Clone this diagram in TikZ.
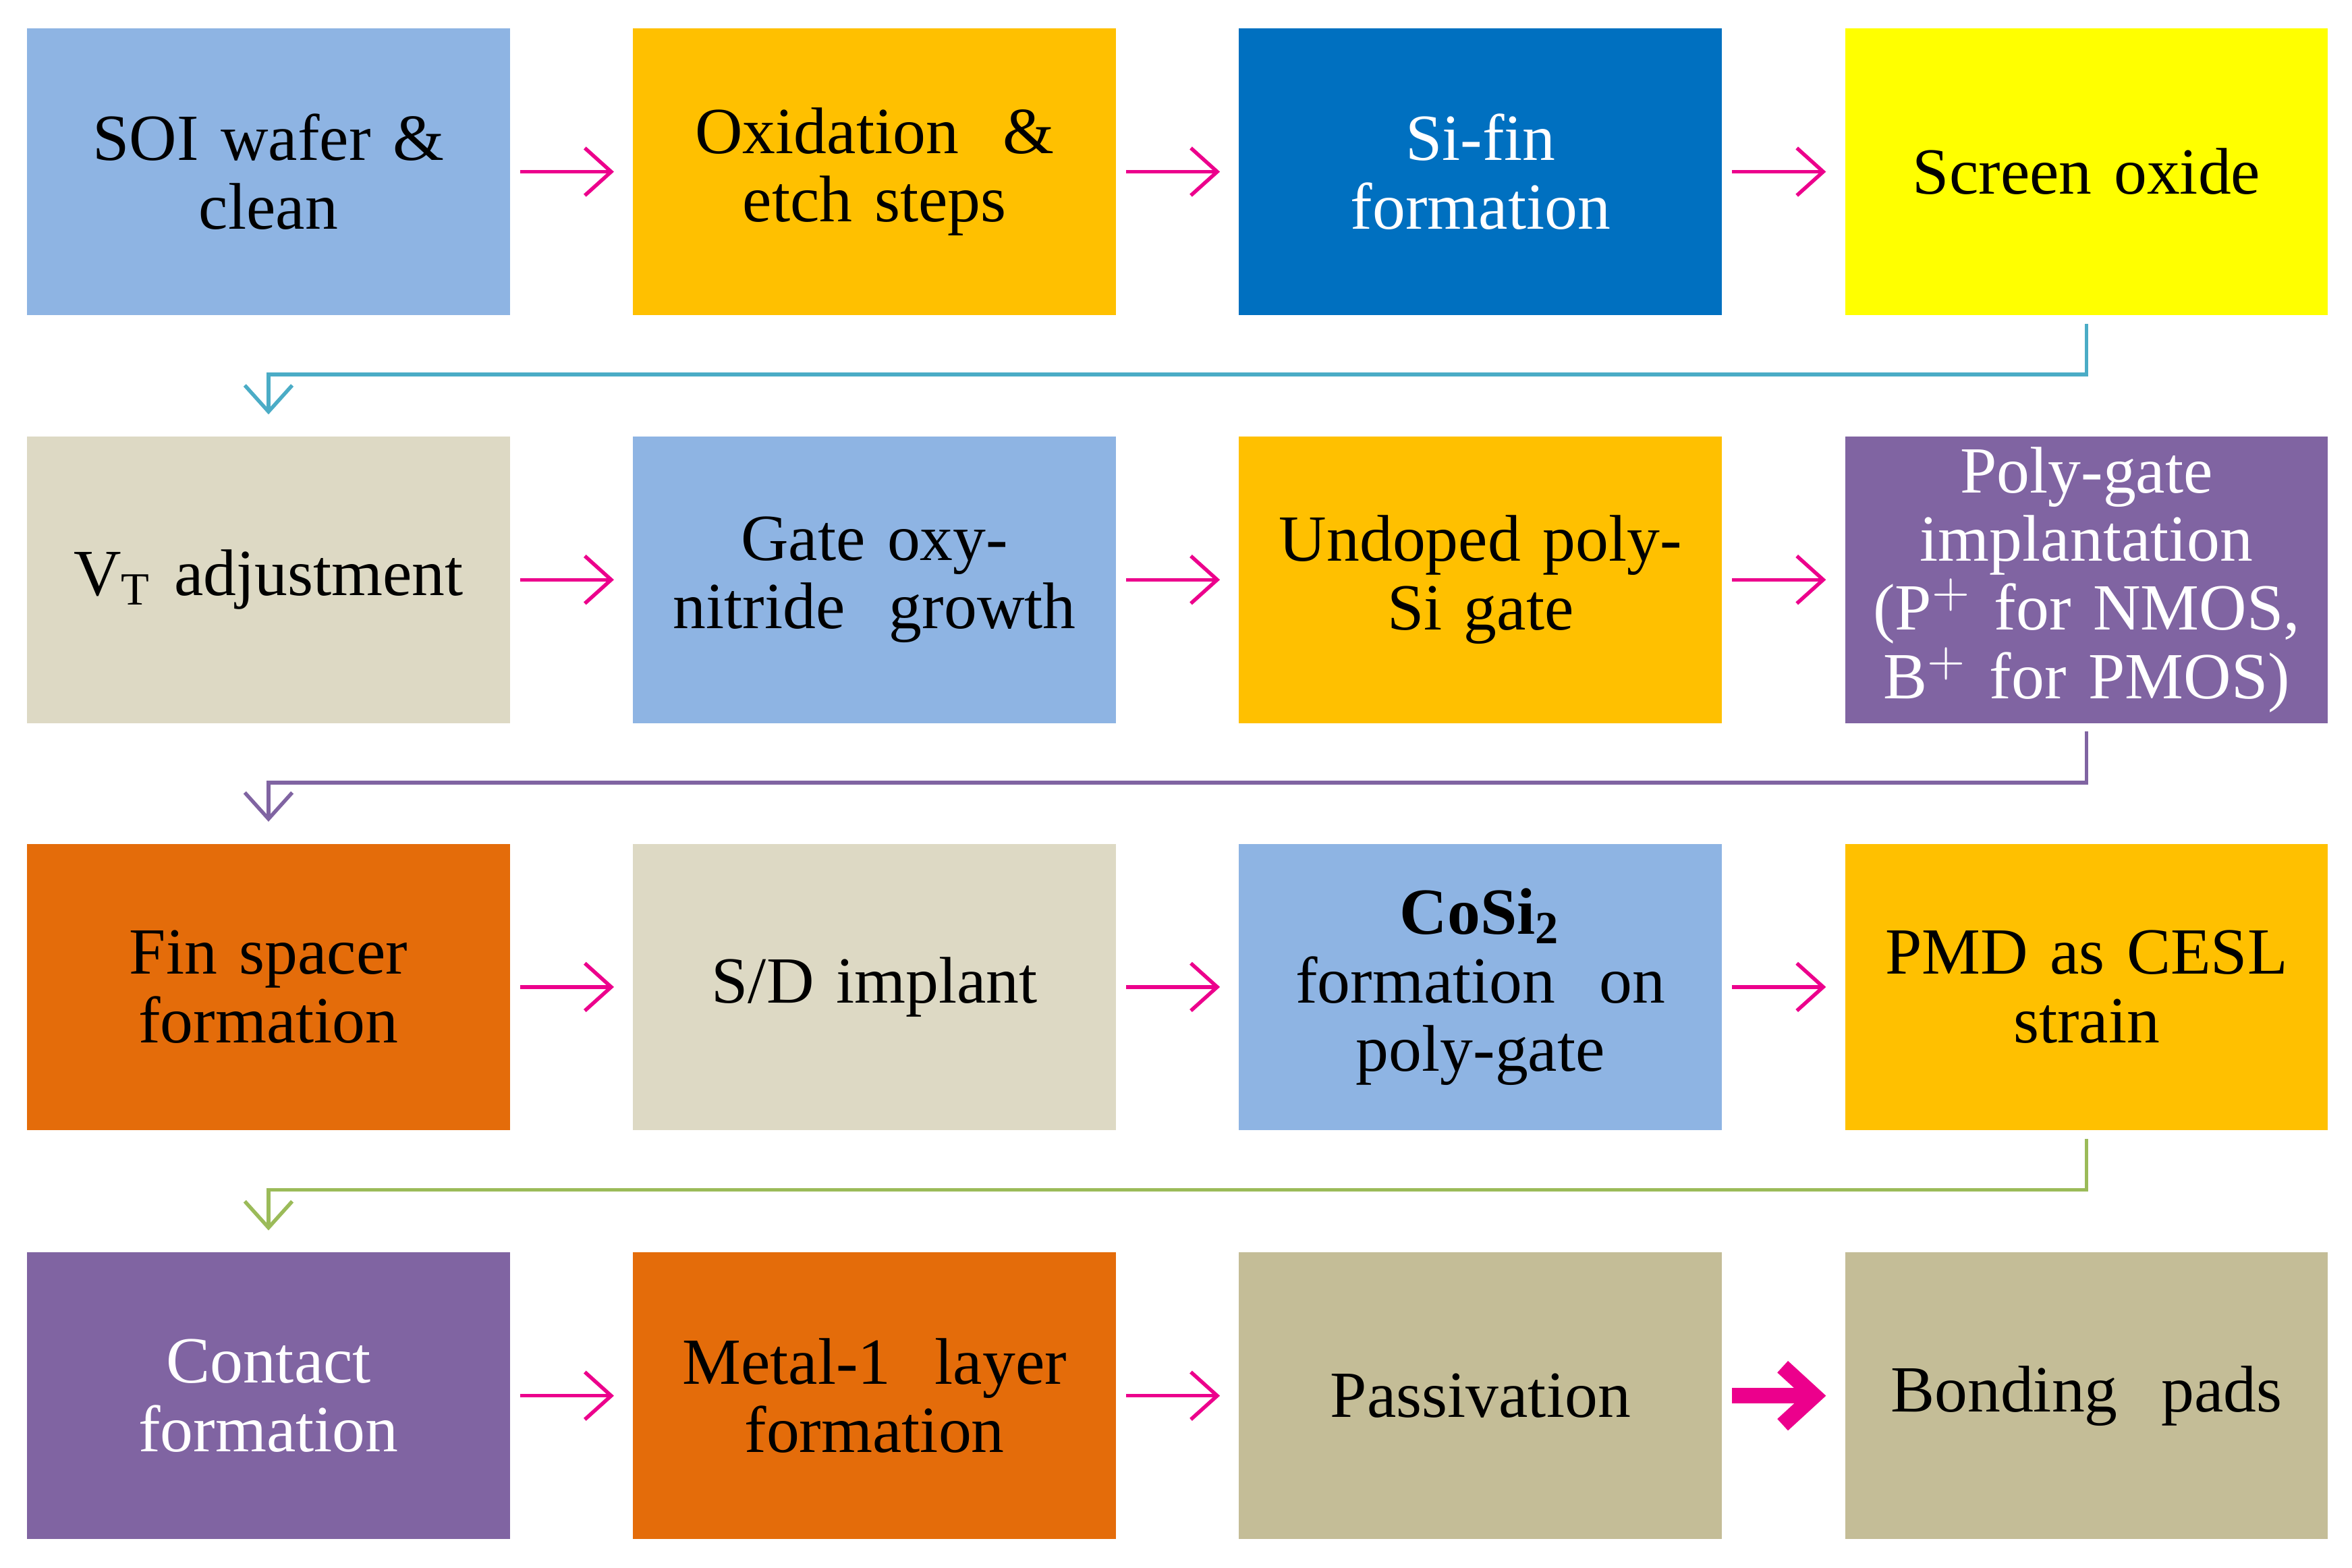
\documentclass[tikz,border=0pt]{standalone}
\usepackage{fontspec}
\setmainfont{Liberation Serif}
\usetikzlibrary{arrows.meta}
\definecolor{ltblue}{HTML}{8EB4E3}
\definecolor{gold}{HTML}{FFC000}
\definecolor{deepblue}{HTML}{0070C0}
\definecolor{brightyel}{HTML}{FFFF00}
\definecolor{beige}{HTML}{DDD9C4}
\definecolor{violet}{HTML}{8064A2}
\definecolor{rust}{HTML}{E46C0A}
\definecolor{tan}{HTML}{C4BD97}
\definecolor{teal}{HTML}{4BACC6}
\definecolor{olive}{HTML}{9BBB59}
\begin{document}
\begin{tikzpicture}[
    stage/.style={minimum width=3.22cm, minimum height=1.91cm, inner sep=2pt,
        align=center, text width=3cm, font=\fontsize{12.5}{13}\selectfont},
    flow/.style={draw=magenta, line width=0.7pt, -{Straight Barb[length=5pt,width=9pt]},
        shorten <=0.06cm, shorten >=0.12cm},
    bigflow/.style={draw=magenta, line width=3pt, -{Straight Barb[length=6pt,width=11pt]},
        shorten <=0.06cm, shorten >=0.12cm},
    wrap/.style={line width=0.7pt, -{Straight Barb[length=5pt,width=9pt]},
        shorten <=0.05cm, shorten >=0.14cm},
]
    \useasboundingbox (0,0) rectangle (15.68,10.45);

    % row 1
    \node[stage, fill=ltblue] (s11) at (1.79,9.305) {SOI wafer \&\\ clean};
    \node[stage, fill=gold] (s12) at (5.83,9.305) {Oxidation \ \&\\ etch steps};
    \node[stage, fill=deepblue, text=white] (s13) at (9.87,9.305) {Si-fin\\ formation};
    \node[stage, fill=brightyel] (s14) at (13.91,9.305) {Screen oxide};

    % row 2
    \node[stage, fill=beige] (s21) at (1.79,6.585) {V$_\mathrm{T}$ adjustment};
    \node[stage, fill=ltblue] (s22) at (5.83,6.585) {Gate oxy-\\ nitride \ growth};
    \node[stage, fill=gold] (s23) at (9.87,6.585) {Undoped poly-\\ Si gate};
    \node[stage, fill=violet, text=white] (s24) at (13.91,6.585) {Poly-gate\\ implantation\\ (P$^+$ for NMOS,\\ B$^+$ for PMOS)};

    % row 3
    \node[stage, fill=rust] (s31) at (1.79,3.87) {Fin spacer\\ formation};
    \node[stage, fill=beige] (s32) at (5.83,3.87) {S/D implant};
    \node[stage, fill=ltblue] (s33) at (9.87,3.87) {\textbf{CoSi$_\mathbf{2}$}\\ formation \ on\\ poly-gate};
    \node[stage, fill=gold] (s34) at (13.91,3.87) {PMD as CESL\\ strain};

    % row 4
    \node[stage, fill=violet, text=white] (s41) at (1.79,1.145) {Contact\\ formation};
    \node[stage, fill=rust] (s42) at (5.83,1.145) {Metal-1 \ layer\\ formation};
    \node[stage, fill=tan] (s43) at (9.87,1.145) {Passivation};
    \node[stage, fill=tan] (s44) at (13.91,1.145) {Bonding \ pads};

    % arrows inside rows
    \draw[flow] (s11) -- (s12);
    \draw[flow] (s12) -- (s13);
    \draw[flow] (s13) -- (s14);
    \draw[flow] (s21) -- (s22);
    \draw[flow] (s22) -- (s23);
    \draw[flow] (s23) -- (s24);
    \draw[flow] (s31) -- (s32);
    \draw[flow] (s32) -- (s33);
    \draw[flow] (s33) -- (s34);
    \draw[flow] (s41) -- (s42);
    \draw[flow] (s42) -- (s43);
    \draw[bigflow] (s43) -- (s44);

    % arrows between rows
    \draw[wrap, draw=teal] (s14.south) -- ++(0,-0.39) -| (s21.north);
    \draw[wrap, draw=violet] (s24.south) -- ++(0,-0.39) -| (s31.north);
    \draw[wrap, draw=olive] (s34.south) -- ++(0,-0.39) -| (s41.north);
\end{tikzpicture}
\end{document}
